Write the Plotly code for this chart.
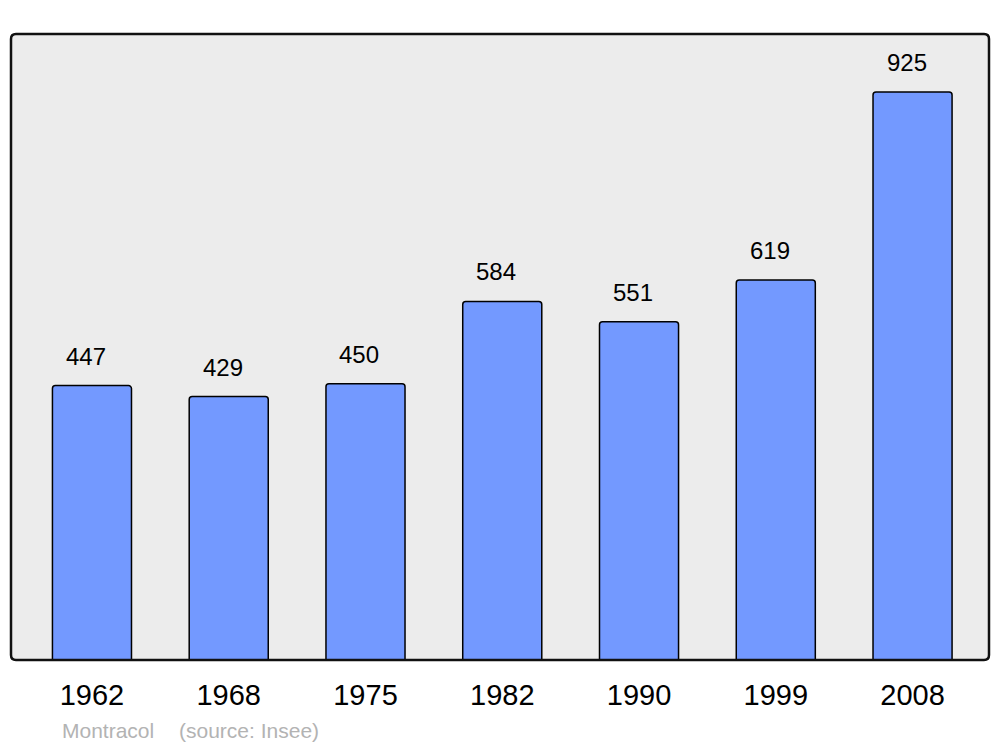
import plotly.graph_objects as go

years = ["1962", "1968", "1975", "1982", "1990", "1999", "2008"]
population = [447, 429, 450, 584, 551, 619, 925]
town = "Montracol"
source = "(source: Insee)"

W, H = 1000, 747
OFF = 8  # page body margin
L, T = 11 - OFF, 34 - OFF
R = W - (989 - OFF)
B = H - (660 - OFF)
PW, PH = W - L - R, H - T - B

FONT = "Liberation Sans, Arial, sans-serif"

fig = go.Figure()
fig.add_trace(go.Bar(
    x=list(range(len(years))), y=population,
    width=0.578,
    marker=dict(color="#7399ff", line=dict(color="#000000", width=1.5), cornerradius=3),
    hoverinfo="skip",
))

for i, v in enumerate(population):
    fig.add_annotation(x=i, y=v, text=str(v), showarrow=False,
                       yanchor="bottom", yshift=14, xshift=-6,
                       font=dict(family=FONT, size=24, color="#000000"))

ysrc = -((730 - OFF) - (H - B)) / PH
fig.add_annotation(xref="paper", yref="paper", x=(60 - 11) / PW, y=ysrc,
                   text=town, showarrow=False, xanchor="left", yanchor="middle",
                   font=dict(family=FONT, size=21, color="#b3b3b3"))
fig.add_annotation(xref="paper", yref="paper", x=(177 - 11) / PW, y=ysrc,
                   text=source, showarrow=False, xanchor="left", yanchor="middle",
                   font=dict(family=FONT, size=21, color="#b3b3b3"))

# rounded plot frame
rx, ry = 5 / PW, 5 / PH
frame = (f"M {rx},0 L {1-rx},0 Q 1,0 1,{ry} L 1,{1-ry} Q 1,1 {1-rx},1 "
         f"L {rx},1 Q 0,1 0,{1-ry} L 0,{ry} Q 0,0 {rx},0 Z")
fig.add_shape(type="path", xref="paper", yref="paper", path=frame,
              line=dict(width=0), fillcolor="#ececec", layer="below")
fig.add_shape(type="path", xref="paper", yref="paper", path=frame,
              line=dict(color="#111111", width=2.5), fillcolor="rgba(0,0,0,0)", layer="above")

fig.update_layout(
    width=W, height=H,
    margin=dict(l=L, r=R, t=T, b=B),
    paper_bgcolor="#ffffff",
    plot_bgcolor="#ffffff",
    showlegend=False,
    xaxis=dict(range=[-0.592, 6.559], showgrid=False, zeroline=False,
               tickmode="array", tickvals=list(range(len(years))), ticktext=years,
               ticks="outside", ticklen=9, tickcolor="rgba(0,0,0,0)",
               tickfont=dict(family=FONT, size=29, color="#000000"),
               fixedrange=True),
    yaxis=dict(range=[0, 1019.5], showgrid=False, zeroline=False, showticklabels=False,
               fixedrange=True),
)

fig.write_html("out.html")
